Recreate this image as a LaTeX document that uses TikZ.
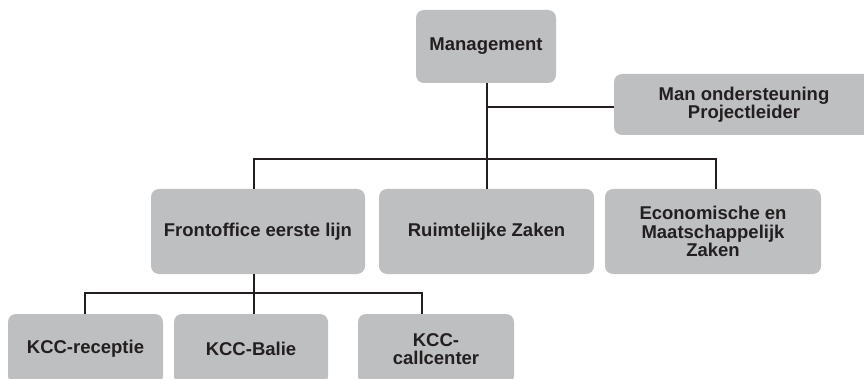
\documentclass[tikz,border=0pt]{standalone}
\usepackage{fontspec}
\setmainfont{Liberation Sans}
\definecolor{boxgray}{RGB}{190,191,193}
\definecolor{ink}{RGB}{35,31,32}
\begin{document}
\begin{tikzpicture}[x=1pt,y=-1pt,
  orgbox/.style={fill=boxgray, draw=none, rounded corners=8pt, inner sep=0pt,
    align=center, text=ink, font=\fontsize{18.5}{18.5}\selectfont\bfseries},
  conn/.style={draw=ink, line width=2.8pt}]
\useasboundingbox (0,0) rectangle (864,379);
\clip (0,0) rectangle (864,379);
% boxes
\node[orgbox, minimum width=140pt, minimum height=73pt] (mgmt) at (486,46.5) {Management};
\node[orgbox, minimum width=260pt, minimum height=61pt] (man) at (744,104.5) {Man ondersteuning\\Projectleider};
\node[orgbox, minimum width=214pt, minimum height=85pt] (front) at (258,231.5) {Frontoffice eerste lijn};
\node[orgbox, minimum width=215pt, minimum height=85pt] (ruimte) at (486.5,231.5) {Ruimtelijke Zaken};
\node[orgbox, minimum width=216pt, minimum height=85pt] (eco) at (713,231.5) {Economische en\\Maatschappelijk\\Zaken};
\node[orgbox, minimum width=155pt, minimum height=70pt] (rec) at (85.5,349) {KCC-receptie};
\node[orgbox, minimum width=154pt, minimum height=70pt] (balie) at (251,349) {KCC-Balie};
\node[orgbox, minimum width=156pt, minimum height=70pt] (call) at (436,349) {KCC-\\callcenter};
% bus coordinates
\coordinate (trunk) at (487,159);
\coordinate (manj) at (487,107);
\coordinate (b2l) at (254,159);
\coordinate (b2r) at (716,159);
\coordinate (b3c) at (254,293);
\coordinate (b3l) at (85,293);
\coordinate (b3r) at (422,293);
% level 1
\draw[conn] (mgmt.south -| trunk) -- (trunk);
\draw[conn] (manj) -- (man.west |- manj);
% level 2
\draw[conn, line cap=rect] (b2l) -- (b2r);
\draw[conn] (b2l) -- (front.north -| b2l);
\draw[conn] (trunk) -- (ruimte.north -| trunk);
\draw[conn] (b2r) -- (eco.north -| b2r);
% level 3
\draw[conn] (front.south -| b3c) -- (b3c);
\draw[conn, line cap=rect] (b3l) -- (b3r);
\draw[conn] (b3l) -- (rec.north -| b3l);
\draw[conn] (b3c) -- (balie.north -| b3c);
\draw[conn] (b3r) -- (call.north -| b3r);
\end{tikzpicture}
\end{document}
